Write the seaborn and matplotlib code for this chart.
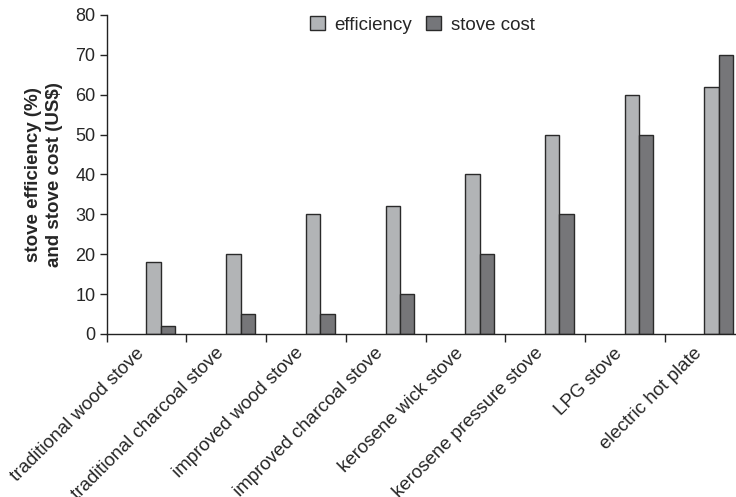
import matplotlib
matplotlib.use("Agg")
import matplotlib.pyplot as plt
from matplotlib.patches import Patch
import numpy as np
import pandas as pd
import seaborn as sns

# Stove types and their values
stoves = [
    "traditional wood stove",
    "traditional charcoal stove",
    "improved wood stove",
    "improved charcoal stove",
    "kerosene wick stove",
    "kerosene pressure stove",
    "LPG stove",
    "electric hot plate",
]
efficiency = [18, 20, 30, 32, 40, 50, 60, 62]
stove_cost = [2, 5, 5, 10, 20, 30, 50, 70]
series_names = ["efficiency", "stove cost"]
y_ticks = [0, 10, 20, 30, 40, 50, 60, 70, 80]

df = pd.DataFrame({
    "stove": stoves * 2,
    "value": efficiency + stove_cost,
    "series": [series_names[0]] * len(stoves) + [series_names[1]] * len(stoves),
})

sns.set_theme(style="ticks")
plt.rcParams["font.family"] = ["Liberation Sans", "DejaVu Sans"]

fig = plt.figure(figsize=(7.36, 4.97), dpi=100)
ax = fig.add_axes([0.1450, 0.328, 0.855, 0.642])

colors = {"efficiency": "#b1b4b7", "stove cost": "#75767a"}
sns.barplot(data=df, x="stove", y="value", hue="series", order=stoves,
            hue_order=series_names, palette=colors, width=0.36, dodge=True,
            edgecolor="#2a2a2a", linewidth=1.0, legend=False, ax=ax)

shift = 0.679
n = len(stoves)
ax.set_xlim(-shift, 7.896 - shift)
ax.set_ylim(0, 80)
ax.set_yticks(y_ticks)
ax.tick_params(axis="y", labelsize=13, length=5, width=1, color="#222222", pad=3)

# slot boundaries as minor ticks, labels on major ticks
bounds = np.arange(n) - shift
ax.set_xticks(bounds, minor=True)
ax.set_xticks(np.arange(n) - 0.24)
ax.set_xticklabels(stoves, rotation=45, ha="right", va="center",
                   rotation_mode="anchor", fontsize=13.5)
ax.tick_params(axis="x", which="major", length=0, pad=12)
ax.tick_params(axis="x", which="minor", length=6, width=1, color="#222222")

ax.set_xlabel("")
ax.set_ylabel("stove efficiency (%)\nand stove cost (US$)", fontsize=13.5,
              fontweight="bold", labelpad=9, linespacing=1.3)
sns.despine(ax=ax)
for s in ["left", "bottom"]:
    ax.spines[s].set_color("#222222")
    ax.spines[s].set_linewidth(1.0)

handles = [Patch(facecolor=colors[s], edgecolor="#2a2a2a", label=s) for s in series_names]
fig.legend(handles=handles, loc="center", bbox_to_anchor=(0.574, 0.95), ncol=2,
           frameon=False, fontsize=13.5, handlelength=0.8, handleheight=0.8,
           columnspacing=0.75, handletextpad=0.5)

fig.savefig("out.png", dpi=100)
